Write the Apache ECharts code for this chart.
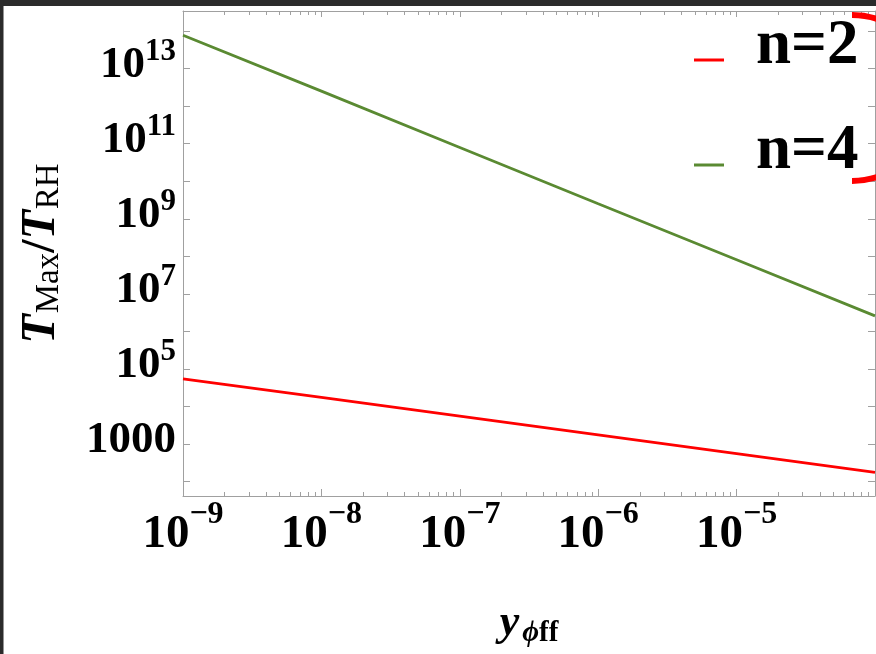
<!DOCTYPE html>
<html>
<head>
<meta charset="utf-8">
<script src="https://cdn.jsdelivr.net/npm/echarts@6/dist/echarts.min.js"></script>
<style>
  html, body { margin: 0; padding: 0; background: #ffffff; }
  #chart { width: 876px; height: 654px; }
</style>
</head>
<body>
<div id="chart"></div>
<script>
// Coupling y_phi_ff (x) against the temperature ratio T_Max / T_RH (y)
const yPhiValues = [1e-9, 1e-8, 1e-7, 1e-6, 1e-5, 1e-4];
const ratioN2 = [5.5e4, 1.75e4, 5.6e3, 1.77e3, 5.6e2, 1.78e2];
const ratioN4 = [7.7e13, 2.5e12, 7.9e10, 2.5e9, 8.1e7, 2.6e6];
const seriesNames = ['n=2', 'n=4'];

// Axis extents and tick values
const xMin = 1e-9, xMax = 1e-4;
const yMin = 41.6, yMax = 3.4e14;
const xLabelValues = [1e-9, 1e-8, 1e-7, 1e-6, 1e-5];
const yTickValues = [1e2, 1e3, 1e4, 1e5, 1e6, 1e7, 1e8, 1e9, 1e10, 1e11, 1e12, 1e13, 1e14];
const yLabelValues = [1e3, 1e5, 1e7, 1e9, 1e11, 1e13];

const SERIF = '"Liberation Serif", "Times New Roman", "DejaVu Serif", serif';
const FRAME = '#a0a0a0';
const RED = '#ff0000';
const GREEN = '#5a8a32';

const pair = (xs, ys) => xs.map((x, i) => [x, ys[i]]);
const expOf = v => Math.round(Math.log10(v));

function yLabel(v) {
  const e = expOf(v);
  if (e === 3) return '{b|1000}';
  return '{b|10}{s|' + e + '}';
}
function xLabel(v) {
  const e = expOf(v);
  return '{b|10}{s|' + (e < 0 ? '\u2212' + (-e) : e) + '}';
}

const chart = echarts.init(document.getElementById('chart'), null, { renderer: 'canvas' });

const frameAxisLine = { show: true, onZero: false, lineStyle: { color: FRAME, width: 1 } };

chart.setOption({
  animation: false,
  backgroundColor: '#ffffff',
  grid: { left: 183, top: 11, right: 1, bottom: 158, containLabel: false },
  legend: {
    orient: 'vertical',
    left: 694,
    top: 15.5,
    padding: 0,
    itemGap: 16,
    itemWidth: 30,
    itemHeight: 3,
    icon: 'rect',
    data: seriesNames,
    formatter: '{a|{name}}',
    textStyle: {
      rich: {
        a: {
          fontFamily: SERIF, fontWeight: 'bold', fontSize: 63, lineHeight: 63,
          color: '#000', padding: [0, 0, 26, 27]
        }
      }
    }
  },
  xAxis: [
    {
      type: 'log', logBase: 10, min: xMin, max: xMax, position: 'bottom',
      axisLine: frameAxisLine,
      axisTick: { show: true, inside: true, length: 7, lineStyle: { color: FRAME } },
      minorTick: { show: true, splitNumber: 9, length: 4, lineStyle: { color: FRAME } },
      splitLine: { show: false },
      minorSplitLine: { show: false },
      axisLabel: {
        customValues: xLabelValues,
        formatter: xLabel,
        margin: 15,
        rich: {
          b: { fontFamily: SERIF, fontWeight: 'bold', fontSize: 47, lineHeight: 47, color: '#000' },
          s: { fontFamily: SERIF, fontWeight: 'bold', fontSize: 32, lineHeight: 32, color: '#000', padding: [0, 0, 40, 0] }
        }
      },
      name: '{y|y}{p|\u03d5}{f|ff}',
      nameLocation: 'middle',
      nameGap: 106,
      nameTextStyle: {
        rich: {
          y: { fontFamily: SERIF, fontStyle: 'italic', fontWeight: 'bold', fontSize: 44, lineHeight: 44, color: '#000' },
          p: { fontFamily: SERIF, fontStyle: 'italic', fontWeight: 'bold', fontSize: 29, lineHeight: 29, color: '#000', padding: [20, 0, 0, 3] },
          f: { fontFamily: SERIF, fontWeight: 'bold', fontSize: 29, lineHeight: 29, color: '#000', padding: [20, 0, 0, 0] }
        }
      }
    },
    {
      type: 'log', logBase: 10, min: xMin, max: xMax, position: 'top',
      axisLine: frameAxisLine,
      axisTick: { show: true, inside: true, length: 6, lineStyle: { color: FRAME } },
      minorTick: { show: true, splitNumber: 9, length: 4, lineStyle: { color: FRAME } },
      splitLine: { show: false },
      axisLabel: { show: false }
    }
  ],
  yAxis: [
    {
      type: 'log', logBase: 10, min: yMin, max: yMax, position: 'left',
      axisLine: frameAxisLine,
      axisTick: { show: true, inside: true, length: 7, customValues: yTickValues, lineStyle: { color: FRAME } },
      minorTick: { show: false },
      splitLine: { show: false },
      axisLabel: {
        customValues: yLabelValues,
        formatter: yLabel,
        margin: 7,
        padding: [0, 0, 7, 0],
        rich: {
          b: { fontFamily: SERIF, fontWeight: 'bold', fontSize: 45, lineHeight: 45, color: '#000' },
          s: { fontFamily: SERIF, fontWeight: 'bold', fontSize: 31, lineHeight: 31, color: '#000', padding: [0, 0, 27, 0] }
        }
      },
      name: '{t|T}{m|Max}{sl|/}{t|T}{m|RH}',
      nameLocation: 'middle',
      nameRotate: 90,
      nameGap: 117,
      nameTextStyle: {
        rich: {
          t: { fontFamily: SERIF, fontStyle: 'italic', fontWeight: 'bold', fontSize: 48, lineHeight: 48, color: '#000' },
          sl: { fontFamily: SERIF, fontWeight: 'bold', fontSize: 48, lineHeight: 48, color: '#000' },
          m: { fontFamily: SERIF, fontSize: 33, lineHeight: 33, color: '#000', padding: [14, 0, 0, 1] }
        }
      }
    },
    {
      type: 'log', logBase: 10, min: yMin, max: yMax, position: 'right',
      axisLine: frameAxisLine,
      axisTick: { show: true, inside: true, length: 7, customValues: yTickValues, lineStyle: { color: FRAME } },
      minorTick: { show: false },
      splitLine: { show: false },
      axisLabel: { show: false }
    }
  ],
  series: [
    {
      name: seriesNames[0], type: 'line', xAxisIndex: 0, yAxisIndex: 0,
      data: pair(yPhiValues, ratioN2),
      showSymbol: false, symbol: 'none',
      color: RED, lineStyle: { color: RED, width: 2.8 }
    },
    {
      name: seriesNames[1], type: 'line', xAxisIndex: 0, yAxisIndex: 0,
      data: pair(yPhiValues, ratioN4),
      showSymbol: false, symbol: 'none',
      color: GREEN, lineStyle: { color: GREEN, width: 2.8 }
    }
  ],
  graphic: [
    // red bracket arc at the legend's right edge
    {
      type: 'arc', z: 100,
      shape: { cx: 852, cy: 98, r: 83, startAngle: -Math.PI / 2, endAngle: Math.PI / 2, clockwise: true },
      style: { fill: null, stroke: RED, lineWidth: 6 }
    },
    // dark window edges
    { type: 'rect', z: 200, shape: { x: 0, y: 0, width: 876, height: 6 }, style: { fill: '#2b2b2b' } },
    { type: 'rect', z: 200, shape: { x: 0, y: 0, width: 3.5, height: 654 }, style: { fill: '#2b2b2b' } }
  ]
});
</script>
</body>
</html>
